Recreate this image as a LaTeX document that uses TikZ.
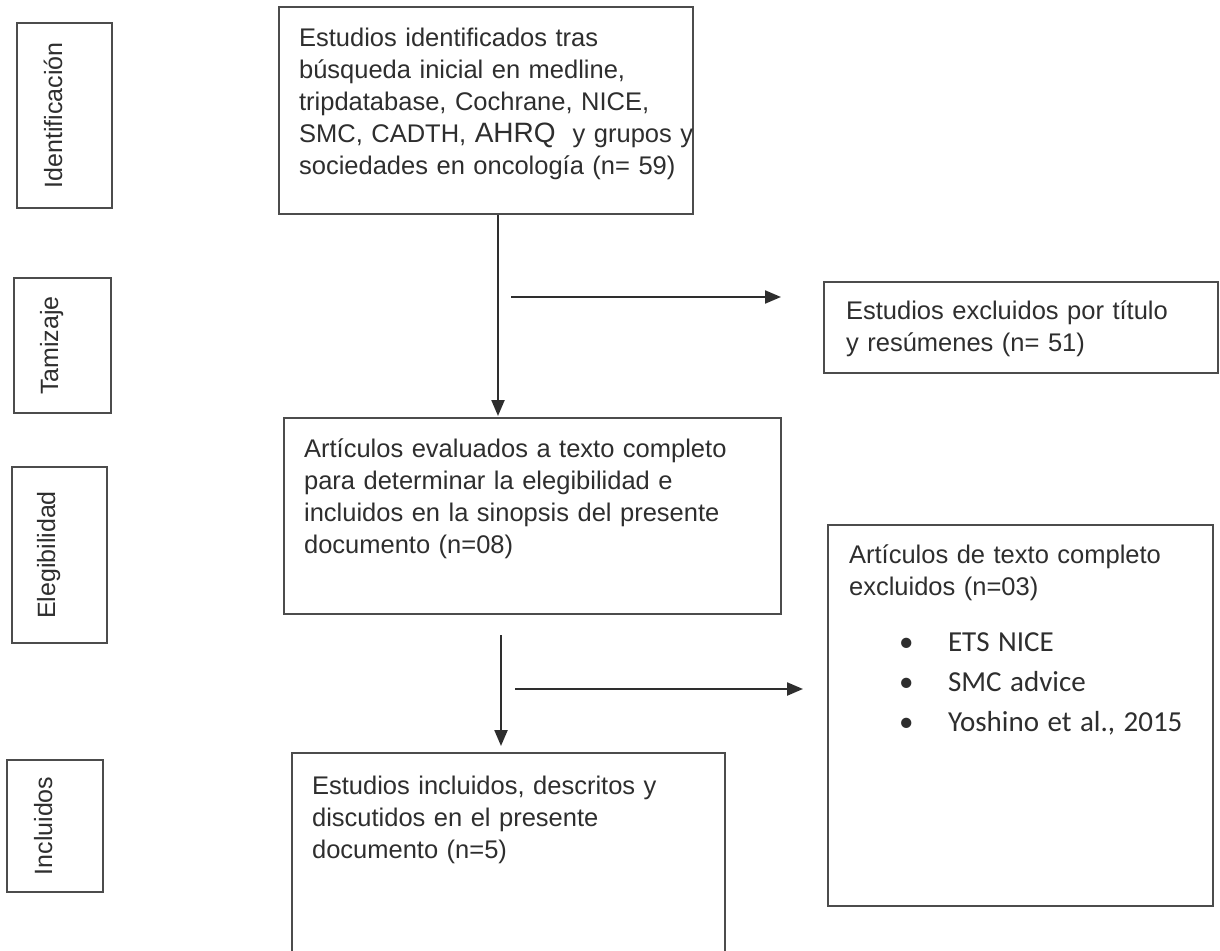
\documentclass[tikz,border=0pt]{standalone}
\usepackage{fontspec}
\setmainfont{Liberation Sans}
\newfontfamily\itemfont{Carlito}
\usetikzlibrary{arrows.meta}
\definecolor{linegray}{gray}{0.3}
\definecolor{txtgray}{gray}{0.18}

\begin{document}
\begin{tikzpicture}
   [x=1pt,y=-1pt,
    stage/.style={draw=linegray,line width=2.2pt,anchor=north west,align=left,
      inner xsep=20pt,inner ysep=20pt,text height=19pt,text=txtgray,
      font=\fontsize{25.5}{32}\selectfont},
    side/.style={draw=linegray,line width=2.2pt,rotate=90,inner sep=0pt,
      text=txtgray,font=\fontsize{25}{30}\selectfont},
    arr/.style={-{Triangle[length=16pt,width=13pt]},line width=2.2pt,black!82}]

\clip (0,0) rectangle (1220,950);
\fill[white] (0,0) rectangle (1220,950);

\node [side,minimum width=185pt,minimum height=95pt,text height=45pt,text depth=50pt] (sideIdent) at (64.5,115.5) {Identificación};
\node [side,minimum width=135pt,minimum height=97pt,text height=44pt,text depth=53pt] (sideTam) at (62.5,345.5) {Tamizaje};
\node [side,minimum width=176pt,minimum height=95pt,text height=43pt,text depth=52pt] (sideEleg) at (59.5,555) {Elegibilidad};
\node [side,minimum width=132pt,minimum height=96pt,text height=45pt,text depth=51pt] (sideIncl) at (55,826) {Incluidos};

\node [stage,text width=374pt,text depth=148pt] (ident) at (278,6) {
Estudios identificados tras\\
búsqueda inicial en medline,\\
tripdatabase, Cochrane, NICE,\\
\makebox[\linewidth][l]{SMC, CADTH, {\fontsize{28}{32}\selectfont AHRQ}\ \ y grupos y}\\
\makebox[\linewidth][l]{sociedades en oncología (n= 59)}};
\node [stage,inner xsep=22pt,inner ysep=18pt,text width=350pt,text depth=36pt] (excl1) at (823,281) {
Estudios excluidos por título\\
y resúmenes (n= 51)};
\node [stage,text width=457pt,text depth=137pt] (eleg) at (283,417) {
Artículos evaluados a texto completo\\
para determinar la elegibilidad e\\
incluidos en la sinopsis del presente\\
documento (n=08)};
\node [stage,inner xsep=21pt,inner ysep=19pt,text width=343pt,text depth=324pt] (excl2) at (827,524) {
Artículos de texto completo\\
excluidos (n=03)\par
\vspace{16pt}
{\itemfont\fontsize{29}{40}\selectfont
\hspace*{50pt}\makebox[49pt][l]{\textbullet}ETS NICE\\
\hspace*{50pt}\makebox[49pt][l]{\textbullet}SMC advice\\
\hspace*{50pt}\makebox[49pt][l]{\textbullet}Yoshino et al., 2015\par}};
\node [stage,inner ysep=22pt,text width=393pt,text depth=200pt] (incl) at (291,752) {
Estudios incluidos, descritos y\\
discutidos en el presente\\
documento (n=5)};

\coordinate (t1) at (498,0);
\coordinate (t2) at (501,0);
\coordinate (h1) at (511,297);
\coordinate (h2) at (515,689);
\draw [arr,shorten >=1pt] (ident.south -| t1) -- (eleg.north -| t1);
\draw [arr,shorten >=42pt] (h1) -- (h1 -| excl1.west);
\draw [arr,shorten <=20pt,shorten >=6pt] (eleg.south -| t2) -- (incl.north -| t2);
\draw [arr,shorten >=24pt] (h2) -- (h2 -| excl2.west);
\end{tikzpicture}
\end{document}
